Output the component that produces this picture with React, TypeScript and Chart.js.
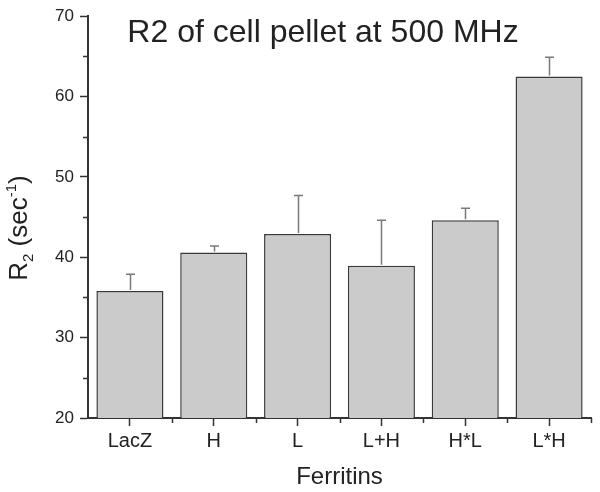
import React, { useEffect, useRef } from "react";
import { Chart, registerables } from "chart.js";

Chart.register(...registerables);

const categories = ["LacZ", "H", "L", "L+H", "H*L", "L*H"];
const r2Values = [35.8, 40.6, 42.9, 38.95, 44.6, 62.5];
const r2UpperError = [2.1, 0.8, 4.8, 5.65, 1.5, 2.4];
const yTickValues = [20, 30, 40, 50, 60, 70];

const FONT = "'Liberation Sans', Arial, Helvetica, sans-serif";
const TEXT = "#222222";
const AXIS = "#333333";

const minorTicksPlugin = {
  id: "minorTicks",
  afterDraw(chart: any) {
    const ctx = chart.ctx;
    const y = chart.scales.y;
    const x = chart.scales.x;
    const area = chart.chartArea;
    ctx.save();
    ctx.strokeStyle = AXIS;
    ctx.lineWidth = 1.5;
    for (let v = 25; v < 70; v += 10) {
      const py = Math.round(y.getPixelForValue(v)) + 0.5;
      ctx.beginPath();
      ctx.moveTo(area.left - 5, py);
      ctx.lineTo(area.left, py);
      ctx.stroke();
    }
    const n = categories.length;
    for (let i = 0; i < n; i++) {
      let px;
      if (i < n - 1) {
        px = (x.getPixelForTick(i) + x.getPixelForTick(i + 1)) / 2;
      } else {
        px = area.right;
      }
      px = Math.round(px) + 0.5;
      ctx.beginPath();
      ctx.moveTo(px, area.bottom);
      ctx.lineTo(px, area.bottom + 5);
      ctx.stroke();
    }
    ctx.restore();
  },
};

const errorBarsPlugin = {
  id: "errorBars",
  afterDatasetsDraw(chart: any) {
    const ctx = chart.ctx;
    const meta = chart.getDatasetMeta(0);
    const yScale = chart.scales.y;
    ctx.save();
    ctx.strokeStyle = "#7a7a7a";
    ctx.lineWidth = 1.5;
    meta.data.forEach((bar: any, i: number) => {
      const top = yScale.getPixelForValue(r2Values[i] + r2UpperError[i]);
      const px = Math.round(bar.x) + 0.5;
      ctx.beginPath();
      ctx.moveTo(px, bar.y - 1);
      ctx.lineTo(px, top);
      ctx.moveTo(px - 4.5, top);
      ctx.lineTo(px + 4.5, top);
      ctx.stroke();
    });
    ctx.restore();
  },
};

const textPlugin = {
  id: "customText",
  afterDraw(chart: any) {
    const ctx = chart.ctx;
    ctx.save();
    ctx.fillStyle = TEXT;
    ctx.font = `32px ${FONT}`;
    ctx.textAlign = "center";
    ctx.textBaseline = "alphabetic";
    ctx.fillText("R2 of cell pellet at 500 MHz", 323, 42);

    const big = `26px ${FONT}`;
    const small = `15px ${FONT}`;
    const parts = [
      { t: "R", f: big, dy: 0 },
      { t: "2", f: small, dy: 6 },
      { t: " (sec", f: big, dy: 0 },
      { t: "-1", f: small, dy: -11 },
      { t: ")", f: big, dy: 0 },
    ];
    let total = 0;
    parts.forEach((p) => {
      ctx.font = p.f;
      total += ctx.measureText(p.t).width;
    });
    ctx.translate(27, 228);
    ctx.rotate(-Math.PI / 2);
    ctx.textAlign = "left";
    let cx = -total / 2;
    parts.forEach((p) => {
      ctx.font = p.f;
      ctx.fillText(p.t, cx, p.dy);
      cx += ctx.measureText(p.t).width;
    });
    ctx.restore();
  },
};

export default function App() {
  const canvasRef = useRef<HTMLCanvasElement>(null);

  useEffect(() => {
    document.body.style.margin = "0";
    const canvas = canvasRef.current;
    if (!canvas) return;
    const chart = new Chart(canvas, {
      type: "bar",
      data: {
        labels: categories,
        datasets: [
          {
            data: r2Values,
            backgroundColor: "#cbcbcb",
            borderColor: "#3a3a3a",
            borderWidth: 1.5,
            barPercentage: 0.8,
            categoryPercentage: 1,
          },
        ],
      },
      options: {
        animation: false,
        responsive: false,
        maintainAspectRatio: false,
        devicePixelRatio: 1,
        layout: { padding: { top: 12, right: 9, left: 0, bottom: 0 } },
        plugins: {
          legend: { display: false },
          title: { display: false },
          tooltip: { enabled: false },
        },
        scales: {
          x: {
            afterFit(scale: any) {
              scale.height = 74;
            },
            grid: {
              display: true,
              drawOnChartArea: false,
              drawTicks: true,
              offset: false,
              tickLength: 8,
              tickColor: AXIS,
              tickWidth: 1.5,
            },
            border: { display: true, color: AXIS, width: 2 },
            ticks: {
              color: TEXT,
              font: { family: FONT, size: 20 },
              padding: 3,
              maxRotation: 0,
            },
            title: {
              display: true,
              text: "Ferritins",
              color: TEXT,
              font: { family: FONT, size: 24 },
              padding: { top: 5, bottom: 0 },
            },
          },
          y: {
            min: 20,
            max: 70,
            afterFit(scale: any) {
              scale.width = 88;
            },
            afterBuildTicks(scale: any) {
              scale.ticks = yTickValues.map((v) => ({ value: v }));
            },
            grid: {
              display: true,
              drawOnChartArea: false,
              drawTicks: true,
              tickLength: 8,
              tickColor: AXIS,
              tickWidth: 1.5,
            },
            border: { display: true, color: AXIS, width: 2 },
            ticks: {
              color: TEXT,
              font: { family: FONT, size: 17 },
              padding: 6,
            },
          },
        },
      },
      plugins: [minorTicksPlugin, errorBarsPlugin, textPlugin],
    });
    return () => chart.destroy();
  }, []);

  return (
    <div style={{ width: 600, height: 492, position: "relative" }}>
      <canvas ref={canvasRef} width={600} height={492} style={{ display: "block" }} />
    </div>
  );
}
